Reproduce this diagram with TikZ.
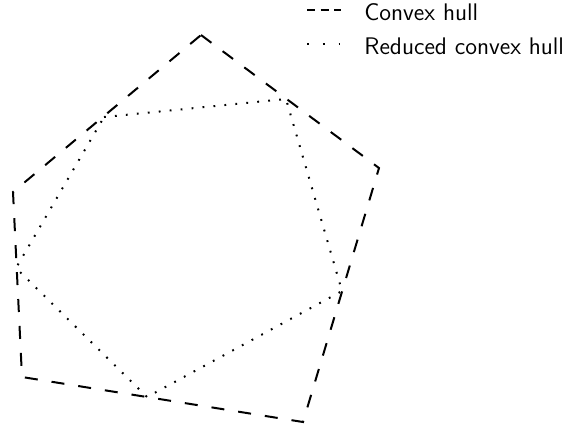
\documentclass[tikz,border=0pt]{standalone}
\usetikzlibrary{positioning}

\begin{document}
\begin{tikzpicture}[x=0.5pt,y=-0.5pt,font=\sffamily\fontsize{12}{14}\selectfont,hull/.style={line width=1pt,dash pattern=on 6.5pt off 7pt},reduced/.style={line width=1pt,dash pattern=on 0.9pt off 4.6pt},keyhull/.style={line width=1pt,dash pattern=on 4pt off 2.8pt},keyreduced/.style={line width=1pt,dash pattern=on 0.9pt off 7pt}]
 \useasboundingbox (0,0) rectangle (582,430);
 % convex hull
 \coordinate (h1) at (201,35); \coordinate (h2) at (379,168); \coordinate (h3) at (303,422); \coordinate (h4) at (22,377); \coordinate (h5) at (13,192);
 \draw[hull] (h1)--(h2)--(h3)--(h4)--(h5)--cycle;
 % reduced convex hull
 \coordinate (r1) at (104,117); \coordinate (r2) at (286,99); \coordinate (r3) at (342,291); \coordinate (r4) at (147,397); \coordinate (r5) at (16,268);
 \draw[reduced] (r1)--(r2)--(r3)--(r4)--(r5)--cycle;
 % legend
 \coordinate (k1a) at (307,10); \coordinate (k1b) at (341,10);
 \coordinate (k2a) at (307,44); \coordinate (k2b) at (341,44);
 \draw[keyhull] (k1a)--(k1b); \draw[keyreduced] (k2a)--(k2b);
 \node[inner sep=0pt,right=11.5pt of k1b,yshift=-1pt] (lhull) {Convex hull};
 \node[inner sep=0pt,right=11.5pt of k2b,yshift=-1pt] (lreduced) {Reduced convex hull};
\end{tikzpicture}
\end{document}
